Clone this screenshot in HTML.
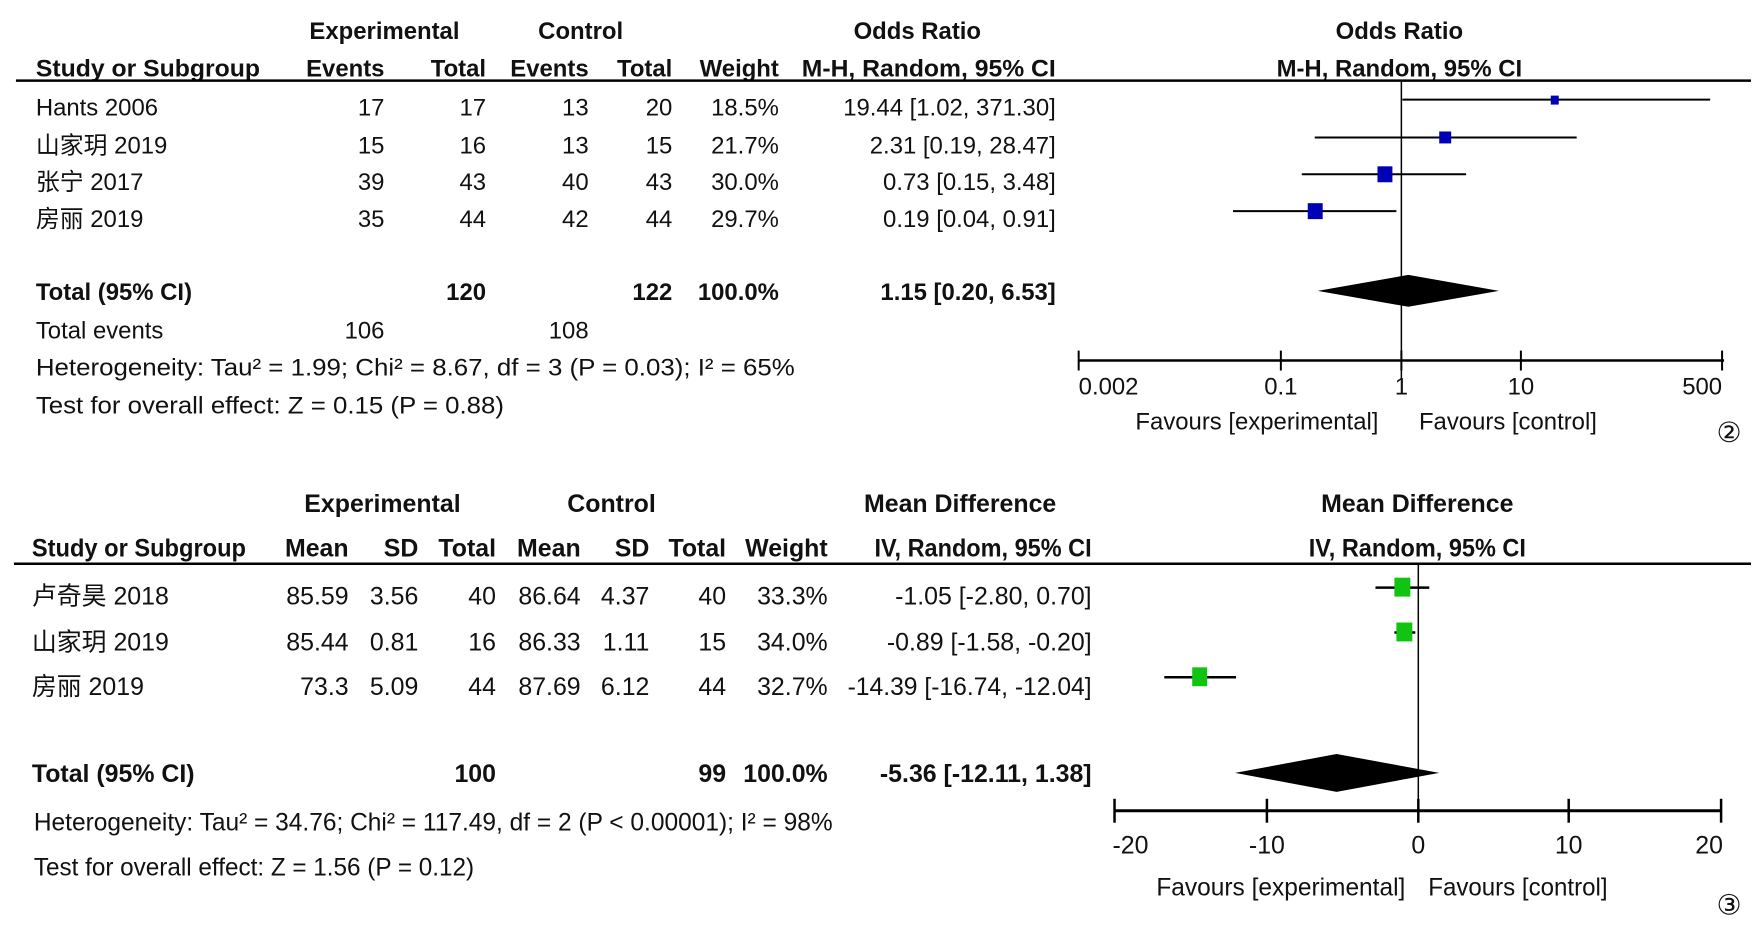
<!DOCTYPE html>
<html><head><meta charset="utf-8"><style>
html,body{margin:0;padding:0;background:#fff}
svg{display:block}
text{font-family:"Liberation Sans Narrow","Liberation Sans","Noto Sans CJK SC",sans-serif;fill:#111}
.b{font-weight:bold}
.t{font-size:24px}
.u{font-size:25px}
</style></head><body>
<svg width="1763" height="937" viewBox="0 0 1763 937" xmlns="http://www.w3.org/2000/svg">
<g transform="scale(0.996)">
<!-- TOP PANEL -->
<g class="t">
<text class="b" x="386" y="39" text-anchor="middle">Experimental</text>
<text class="b" x="583" y="39" text-anchor="middle">Control</text>
<text class="b" x="921" y="39" text-anchor="middle">Odds Ratio</text>
<text class="b" x="1405" y="39" text-anchor="middle">Odds Ratio</text>
<text class="b" x="36" y="77" textLength="225" lengthAdjust="spacingAndGlyphs">Study or Subgroup</text>
<text class="b" x="386" y="77" text-anchor="end">Events</text>
<text class="b" x="488" y="77" text-anchor="end">Total</text>
<text class="b" x="591" y="77" text-anchor="end">Events</text>
<text class="b" x="675" y="77" text-anchor="end">Total</text>
<text class="b" x="782" y="77" text-anchor="end">Weight</text>
<text class="b" x="1060" y="77" text-anchor="end" textLength="255" lengthAdjust="spacingAndGlyphs">M-H, Random, 95% CI</text>
<text class="b" x="1405" y="77" text-anchor="middle">M-H, Random, 95% CI</text>
</g>
<line x1="16" y1="81" x2="1758" y2="81" stroke="#000" stroke-width="2.5"/>
<g class="t">
<text x="36" y="116">Hants 2006</text><text x="386" y="116" text-anchor="end">17</text><text x="488" y="116" text-anchor="end">17</text><text x="591" y="116" text-anchor="end">13</text><text x="675" y="116" text-anchor="end">20</text><text x="782" y="116" text-anchor="end">18.5%</text><text x="1060" y="116" text-anchor="end">19.44 [1.02, 371.30]</text>
<text x="36" y="154">山家玥 2019</text><text x="386" y="154" text-anchor="end">15</text><text x="488" y="154" text-anchor="end">16</text><text x="591" y="154" text-anchor="end">13</text><text x="675" y="154" text-anchor="end">15</text><text x="782" y="154" text-anchor="end">21.7%</text><text x="1060" y="154" text-anchor="end">2.31 [0.19, 28.47]</text>
<text x="36" y="191">张宁 2017</text><text x="386" y="191" text-anchor="end">39</text><text x="488" y="191" text-anchor="end">43</text><text x="591" y="191" text-anchor="end">40</text><text x="675" y="191" text-anchor="end">43</text><text x="782" y="191" text-anchor="end">30.0%</text><text x="1060" y="191" text-anchor="end">0.73 [0.15, 3.48]</text>
<text x="36" y="228">房丽 2019</text><text x="386" y="228" text-anchor="end">35</text><text x="488" y="228" text-anchor="end">44</text><text x="591" y="228" text-anchor="end">42</text><text x="675" y="228" text-anchor="end">44</text><text x="782" y="228" text-anchor="end">29.7%</text><text x="1060" y="228" text-anchor="end">0.19 [0.04, 0.91]</text>
<text class="b" x="36" y="301">Total (95% CI)</text><text class="b" x="488" y="301" text-anchor="end">120</text><text class="b" x="675" y="301" text-anchor="end">122</text><text class="b" x="782" y="301" text-anchor="end">100.0%</text><text class="b" x="1060" y="301" text-anchor="end">1.15 [0.20, 6.53]</text>
<text x="36" y="340">Total events</text><text x="386" y="340" text-anchor="end">106</text><text x="591" y="340" text-anchor="end">108</text>
<text x="36" y="377" textLength="762" lengthAdjust="spacingAndGlyphs">Heterogeneity: Tau² = 1.99; Chi² = 8.67, df = 3 (P = 0.03); I² = 65%</text>
<text x="36" y="415" textLength="470" lengthAdjust="spacingAndGlyphs">Test for overall effect: Z = 0.15 (P = 0.88)</text>
</g>
<!-- top plot -->
<line x1="1407" y1="81" x2="1407" y2="381" stroke="#000" stroke-width="1.5"/>
<g stroke="#000" stroke-width="2">
<line x1="1408" y1="100" x2="1717" y2="100"/>
<line x1="1320" y1="138" x2="1583" y2="138"/>
<line x1="1307" y1="175" x2="1472" y2="175"/>
<line x1="1238" y1="212" x2="1402" y2="212"/>
<line x1="1083" y1="362" x2="1731" y2="362" stroke-width="2.5"/>
<line x1="1083" y1="352" x2="1083" y2="372"/><line x1="1286" y1="352" x2="1286" y2="372"/><line x1="1407" y1="352" x2="1407" y2="372"/><line x1="1527" y1="352" x2="1527" y2="372"/><line x1="1729" y1="352" x2="1729" y2="372"/>
</g>
<g fill="#0000b4">
<rect x="1557" y="96" width="8" height="9"/>
<rect x="1445" y="132" width="12" height="12"/>
<rect x="1383" y="167" width="15" height="16"/>
<rect x="1313" y="204" width="15" height="16"/>
</g>
<polygon points="1323,292 1414,276 1505,292 1414,308" fill="#000"/>
<g class="t">
<text x="1083" y="396">0.002</text><text x="1286" y="396" text-anchor="middle">0.1</text><text x="1407" y="396" text-anchor="middle">1</text><text x="1527" y="396" text-anchor="middle">10</text><text x="1729" y="396" text-anchor="end">500</text>
<text x="1262" y="431" text-anchor="middle">Favours [experimental]</text><text x="1514" y="431" text-anchor="middle">Favours [control]</text>
</g>
<text x="1736" y="444" text-anchor="middle" style="font-family:'DejaVu Serif',serif;font-size:28px">②</text>

<!-- BOTTOM PANEL -->
<g class="u">
<text class="b" x="384" y="514" text-anchor="middle">Experimental</text>
<text class="b" x="614" y="514" text-anchor="middle">Control</text>
<text class="b" x="964" y="514" text-anchor="middle">Mean Difference</text>
<text class="b" x="1423" y="514" text-anchor="middle">Mean Difference</text>
<text class="b" x="32" y="559" textLength="215" lengthAdjust="spacingAndGlyphs">Study or Subgroup</text>
<text class="b" x="350" y="559" text-anchor="end">Mean</text>
<text class="b" x="420" y="559" text-anchor="end">SD</text>
<text class="b" x="498" y="559" text-anchor="end">Total</text>
<text class="b" x="583" y="559" text-anchor="end">Mean</text>
<text class="b" x="652" y="559" text-anchor="end">SD</text>
<text class="b" x="729" y="559" text-anchor="end">Total</text>
<text class="b" x="831" y="559" text-anchor="end">Weight</text>
<text class="b" x="1096" y="559" text-anchor="end" textLength="218" lengthAdjust="spacingAndGlyphs">IV, Random, 95% CI</text>
<text class="b" x="1423" y="559" text-anchor="middle" textLength="218" lengthAdjust="spacingAndGlyphs">IV, Random, 95% CI</text>
</g>
<line x1="14" y1="566" x2="1758" y2="566" stroke="#000" stroke-width="2.5"/>
<g class="u">
<text x="32" y="607">卢奇昊 2018</text><text x="350" y="607" text-anchor="end">85.59</text><text x="420" y="607" text-anchor="end">3.56</text><text x="498" y="607" text-anchor="end">40</text><text x="583" y="607" text-anchor="end">86.64</text><text x="652" y="607" text-anchor="end">4.37</text><text x="729" y="607" text-anchor="end">40</text><text x="831" y="607" text-anchor="end">33.3%</text><text x="1096" y="607" text-anchor="end">-1.05 [-2.80, 0.70]</text>
<text x="32" y="653">山家玥 2019</text><text x="350" y="653" text-anchor="end">85.44</text><text x="420" y="653" text-anchor="end">0.81</text><text x="498" y="653" text-anchor="end">16</text><text x="583" y="653" text-anchor="end">86.33</text><text x="652" y="653" text-anchor="end">1.11</text><text x="729" y="653" text-anchor="end">15</text><text x="831" y="653" text-anchor="end">34.0%</text><text x="1096" y="653" text-anchor="end">-0.89 [-1.58, -0.20]</text>
<text x="32" y="698">房丽 2019</text><text x="350" y="698" text-anchor="end">73.3</text><text x="420" y="698" text-anchor="end">5.09</text><text x="498" y="698" text-anchor="end">44</text><text x="583" y="698" text-anchor="end">87.69</text><text x="652" y="698" text-anchor="end">6.12</text><text x="729" y="698" text-anchor="end">44</text><text x="831" y="698" text-anchor="end">32.7%</text><text x="1096" y="698" text-anchor="end" textLength="245" lengthAdjust="spacingAndGlyphs">-14.39 [-16.74, -12.04]</text>
<text class="b" x="32" y="785">Total (95% CI)</text><text class="b" x="498" y="785" text-anchor="end">100</text><text class="b" x="729" y="785" text-anchor="end">99</text><text class="b" x="831" y="785" text-anchor="end">100.0%</text><text class="b" x="1096" y="785" text-anchor="end">-5.36 [-12.11, 1.38]</text>
<text x="34" y="834" textLength="802" lengthAdjust="spacingAndGlyphs">Heterogeneity: Tau² = 34.76; Chi² = 117.49, df = 2 (P &lt; 0.00001); I² = 98%</text>
<text x="34" y="879" textLength="442" lengthAdjust="spacingAndGlyphs">Test for overall effect: Z = 1.56 (P = 0.12)</text>
</g>
<line x1="1424" y1="566" x2="1424" y2="814" stroke="#000" stroke-width="1.5"/>
<g stroke="#000" stroke-width="2.5">
<line x1="1381" y1="590" x2="1435" y2="590"/>
<line x1="1400" y1="635" x2="1421" y2="635"/>
<line x1="1169" y1="680" x2="1241" y2="680"/>
<line x1="1119" y1="814" x2="1728" y2="814" stroke-width="3"/>
<line x1="1119" y1="802" x2="1119" y2="826"/><line x1="1272" y1="802" x2="1272" y2="826"/><line x1="1424" y1="802" x2="1424" y2="826"/><line x1="1575" y1="802" x2="1575" y2="826"/><line x1="1728" y1="802" x2="1728" y2="826"/>
</g>
<g fill="#11c411">
<rect x="1400" y="580" width="16" height="19"/>
<rect x="1402" y="625" width="16" height="19"/>
<rect x="1197" y="670" width="15" height="19"/>
</g>
<polygon points="1240,776 1342,757 1445,776 1342,795" fill="#000"/>
<g class="u">
<text x="1135" y="857" text-anchor="middle">-20</text><text x="1272" y="857" text-anchor="middle">-10</text><text x="1424" y="857" text-anchor="middle">0</text><text x="1575" y="857" text-anchor="middle">10</text><text x="1716" y="857" text-anchor="middle">20</text>
<text x="1286" y="899" text-anchor="middle" textLength="250" lengthAdjust="spacingAndGlyphs">Favours [experimental]</text><text x="1524" y="899" text-anchor="middle" textLength="180" lengthAdjust="spacingAndGlyphs">Favours [control]</text>
</g>
<text x="1736" y="918" text-anchor="middle" style="font-family:'DejaVu Serif',serif;font-size:28px">③</text>
</g>
</svg>
</body></html>
